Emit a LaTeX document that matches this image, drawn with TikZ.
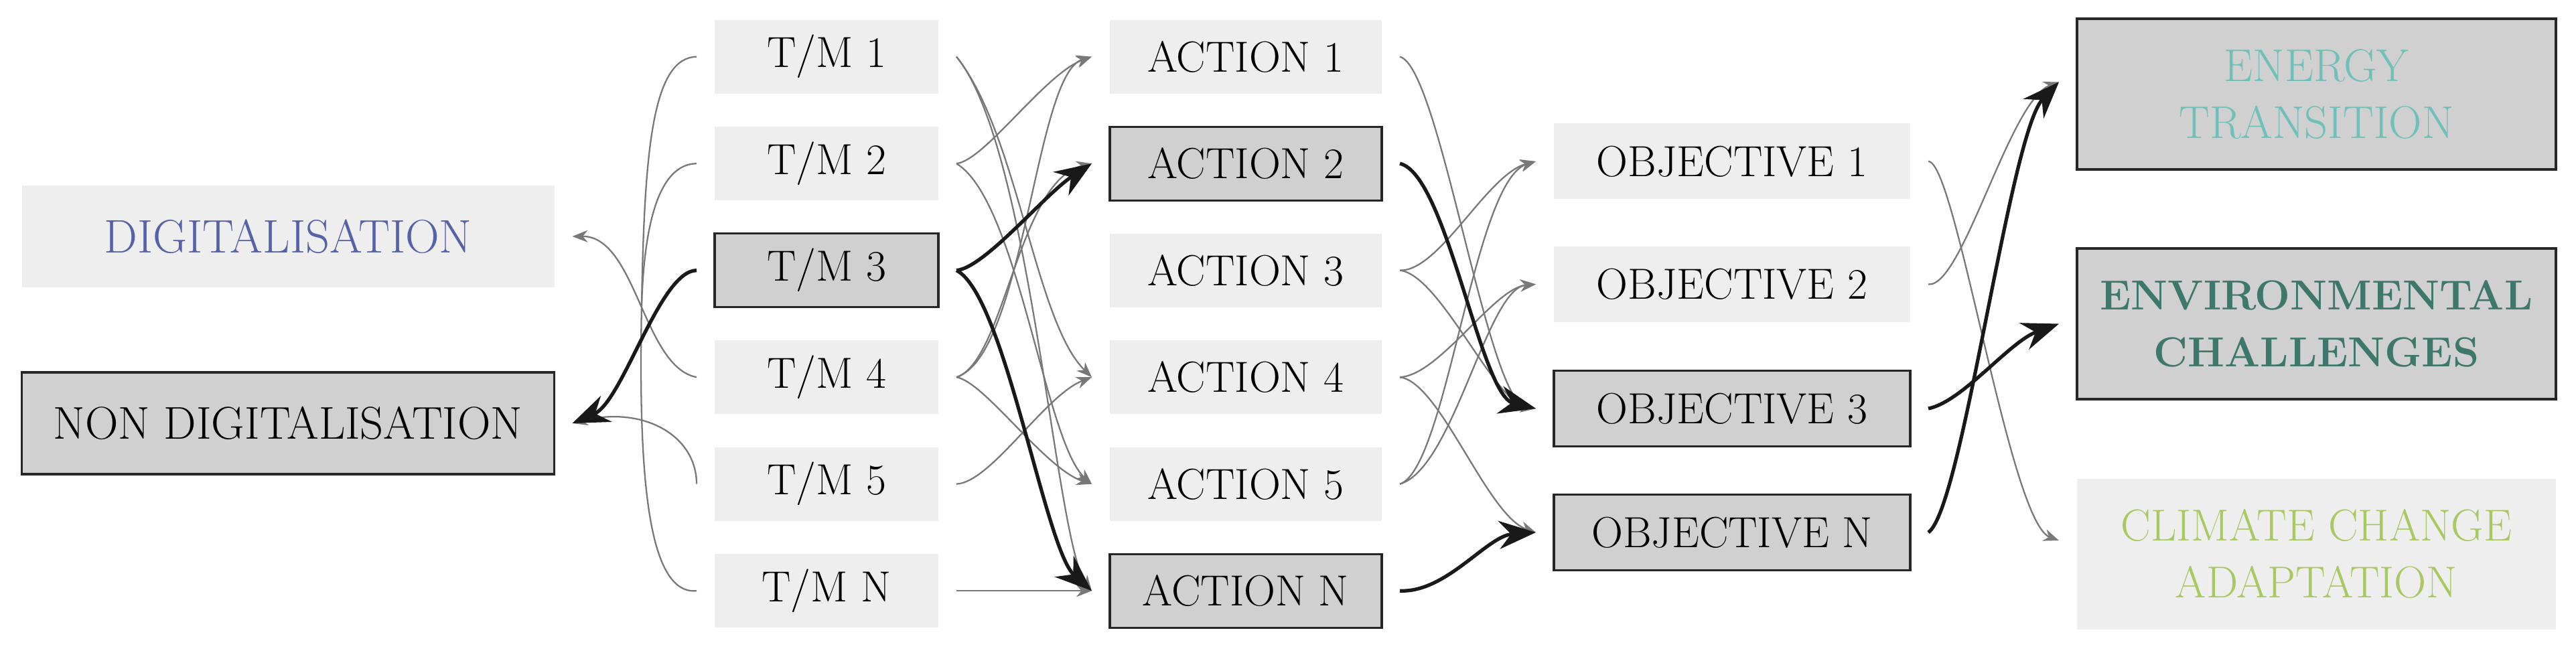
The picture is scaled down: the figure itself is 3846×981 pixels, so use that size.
\documentclass[tikz,border=0pt]{standalone}
\usepackage{fontspec}
\usetikzlibrary{arrows.meta}

\definecolor{boxlite}{RGB}{238,238,238}
\definecolor{boxdark}{RGB}{208,208,208}
\definecolor{linegray}{RGB}{120,120,120}
\definecolor{digblue}{RGB}{85,97,168}
\definecolor{energyteal}{RGB}{110,192,184}
\definecolor{envgreen}{RGB}{62,120,106}
\definecolor{climgreen}{RGB}{168,200,98}

\tikzset{
  lite/.style={fill=boxlite, minimum height=11mm, font=\fontsize{18.5}{22}\selectfont},
  dark/.style={lite, fill=boxdark, draw=black!85, line width=0.9pt},
  goal/.style={minimum width=71.5mm, minimum height=22.5mm, font=\fontsize{19.5}{24}\selectfont},
  weak/.style={draw=linegray, line width=0.65pt, -{Stealth[length=2.3mm,width=1.8mm]}},
  strong/.style={draw=black!90, line width=1.5pt, -{Stealth[length=5.5mm,width=4.2mm,inset=1.8mm]}},
  plain/.style={draw=linegray, line width=0.65pt},
}

\begin{document}
\begin{tikzpicture}[x=0.1mm, y=-0.1mm,
  every node/.style={inner sep=0pt, outer sep=2.7mm, align=center}]
\useasboundingbox (0,0) rectangle (3846,981);

\node[lite, minimum width=79.5mm, minimum height=15.2mm,
      font=\fontsize{20}{24}\selectfont, text=digblue] (dig) at (430,353) {DIGITALISATION};
\node[dark, minimum width=79.5mm, minimum height=15.2mm,
      font=\fontsize{19.5}{24}\selectfont] (nondig) at (430,632) {NON DIGITALISATION};

\matrix[column sep={62.6mm,between origins},
        row sep={15.95mm,between origins}] at (1565,484.25)
{ \node[lite, minimum width=33.4mm] (tm1) {T/M 1}; & \node[lite, minimum width=40.6mm] (act1) {ACTION 1}; \\
  \node[lite, minimum width=33.4mm] (tm2) {T/M 2}; & \node[dark, minimum width=40.6mm] (act2) {ACTION 2}; \\
  \node[dark, minimum width=33.4mm] (tm3) {T/M 3}; & \node[lite, minimum width=40.6mm] (act3) {ACTION 3}; \\
  \node[lite, minimum width=33.4mm] (tm4) {T/M 4}; & \node[lite, minimum width=40.6mm] (act4) {ACTION 4}; \\
  \node[lite, minimum width=33.4mm] (tm5) {T/M 5}; & \node[lite, minimum width=40.6mm] (act5) {ACTION 5}; \\
  \node[lite, minimum width=33.4mm] (tmN) {T/M N}; & \node[dark, minimum width=40.6mm] (actN) {ACTION N}; \\};

\node[lite, minimum width=53.2mm, minimum height=11.3mm] (obj1) at (2586,241) {OBJECTIVE 1};
\node[lite, minimum width=53.2mm, minimum height=11.3mm] (obj2) at (2586,424.5) {OBJECTIVE 2};
\node[dark, minimum width=53.2mm, minimum height=11.3mm] (obj3) at (2586,610) {OBJECTIVE 3};
\node[dark, minimum width=53.2mm, minimum height=11.3mm] (objN) at (2586,795) {OBJECTIVE N};

\node[dark, goal, text=energyteal] (en) at (3458.5,140.5) {ENERGY\\TRANSITION};
\node[dark, goal, font=\fontsize{17.8}{24}\selectfont\bfseries, text=envgreen] (env) at (3458.5,483.5) {ENVIRONMENTAL\\CHALLENGES};
\node[lite, goal, font=\fontsize{19}{24}\selectfont, text=climgreen] (cl) at (3458.5,827) {CLIMATE CHANGE\\ADAPTATION};

\coordinate (bend) at (958,455);
\draw[plain] (tm1.west) .. controls (975,86) and (962,220) .. (bend)
                        .. controls (953,700) and (965,889) .. (tmN.west);
\draw[plain] (tm2.west) .. controls (985,245) and (962,330) .. (bend);
\draw[weak] (tm4.west) .. controls (960,548) and (950,352) .. (dig.east);
\draw[weak] (tm5.west) .. controls (1040,650) and (960,605) .. (nondig.east);
\draw[strong] (tm3.west) .. controls (985,404) and (930,600) .. (nondig.east);

\draw[weak] (tm2.east) .. controls (1470,240) and (1560,110) .. (act1.west);
\draw[weak] (tm4.east) .. controls (1530,530) and (1545,110) .. (act1.west);
\draw[weak] (tm4.east) .. controls (1500,540) and (1520,270) .. (act2.west);
\draw[weak] (tm1.east) .. controls (1520,200) and (1545,480) .. (act4.west);
\draw[weak] (tm1.east) .. controls (1540,220) and (1575,810) .. (actN.west);
\draw[weak] (tm2.east) .. controls (1520,300) and (1560,660) .. (act5.west);
\draw[weak] (tm4.east) .. controls (1470,570) and (1560,700) .. (act5.west);
\draw[weak] (tm5.east) .. controls (1480,720) and (1560,590) .. (act4.west);
\draw[weak] (tmN.east) -- (actN.west);
\draw[strong] (tm3.east) .. controls (1470,400) and (1560,290) .. (act2.west);
\draw[strong] (tm3.east) .. controls (1500,440) and (1560,820) .. (actN.west);

\draw[weak] (act1.east) .. controls (2150,100) and (2220,600) .. (obj3.west);
\draw[weak] (act3.east) .. controls (2150,405) and (2220,260) .. (obj1.west);
\draw[weak] (act3.east) .. controls (2150,410) and (2230,600) .. (obj3.west);
\draw[weak] (act4.east) .. controls (2150,560) and (2230,430) .. (obj2.west);
\draw[weak] (act4.east) .. controls (2150,570) and (2220,770) .. (objN.west);
\draw[weak] (act5.east) .. controls (2160,700) and (2200,270) .. (obj1.west);
\draw[weak] (act5.east) .. controls (2170,700) and (2220,430) .. (obj2.west);
\draw[strong] (act2.east) .. controls (2160,260) and (2210,590) .. (obj3.west);
\draw[strong] (actN.east) .. controls (2160,885) and (2220,800) .. (objN.west);

\draw[weak] (obj1.east) .. controls (2920,240) and (3000,780) .. ([yshift=2mm]cl.west);
\draw[weak] (obj2.east) .. controls (2930,430) and (3000,150) .. ([yshift=1.8mm]en.west);
\draw[strong] (obj3.east) .. controls (2930,600) and (3000,510) .. (env.west);
\draw[strong] (objN.east) .. controls (2930,760) and (3000,200) .. ([yshift=1.8mm]en.west);
\end{tikzpicture}
\end{document}
